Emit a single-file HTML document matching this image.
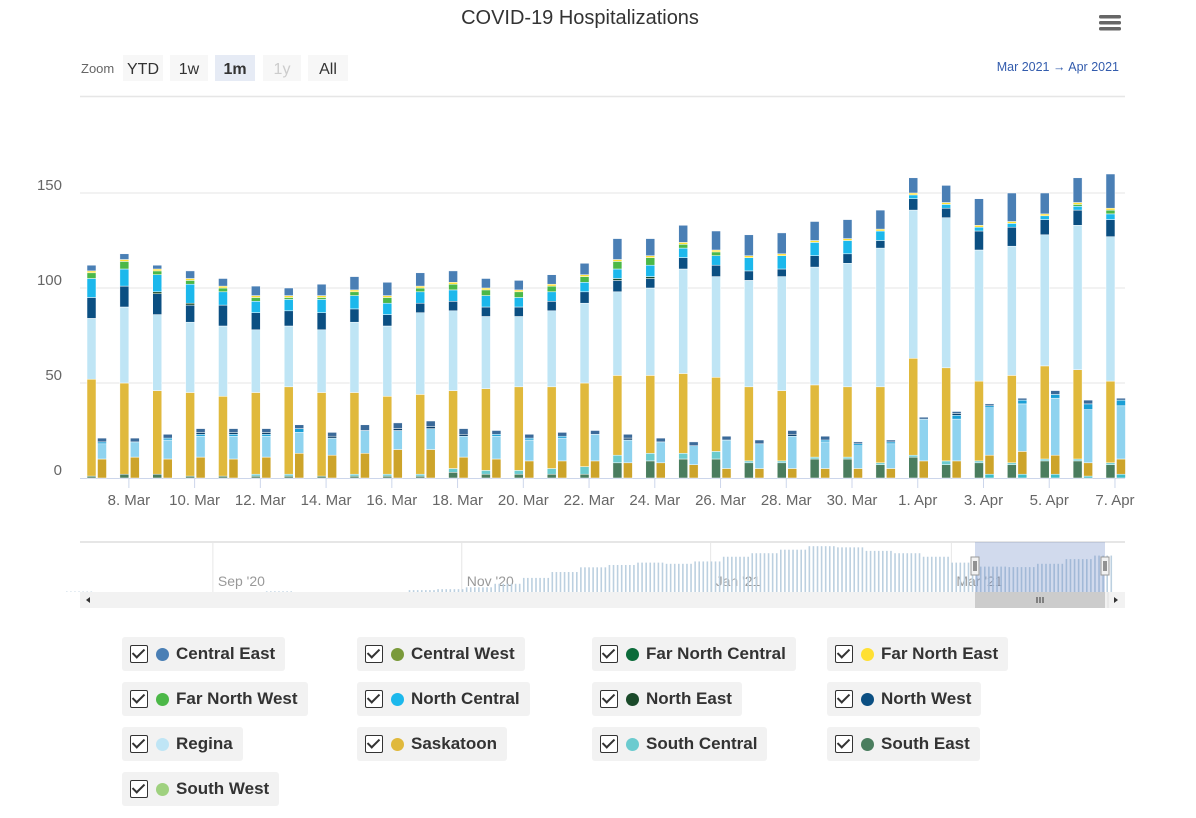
<!DOCTYPE html>
<html><head><meta charset="utf-8">
<style>
body{margin:0;background:#fff;font-family:"Liberation Sans",sans-serif;width:1196px;height:818px;overflow:hidden;position:relative}
svg{position:absolute;left:0;top:0}
.leg{position:absolute;height:34px;background:#f2f2f2;border-radius:3px;display:flex;align-items:center;padding:0 10px 0 8px;font-size:17px;font-weight:bold;color:#333;box-sizing:border-box}
.cb{width:18px;height:18px;border:1.5px solid #333;border-radius:2px;box-sizing:border-box;margin-right:8px;position:relative;background:#fff}
.cb:after{content:"";position:absolute;left:4px;top:0px;width:5px;height:10px;border:solid #333;border-width:0 2px 2px 0;transform:rotate(45deg)}
.dot{width:13px;height:13px;border-radius:50%;margin-right:7px}
</style></head><body>
<svg id="chart" width="1196" height="620"></svg>
<div id="legend"></div>
<script>
const dates=["7. Mar","8. Mar","9. Mar","10. Mar","11. Mar","12. Mar","13. Mar","14. Mar","15. Mar","16. Mar","17. Mar","18. Mar","19. Mar","20. Mar","21. Mar","22. Mar","23. Mar","24. Mar","25. Mar","26. Mar","27. Mar","28. Mar","29. Mar","30. Mar","31. Mar","1. Apr","2. Apr","3. Apr","4. Apr","5. Apr","6. Apr","7. Apr"];
const yTicks=[0,50,100,150];
// hospital (non-ICU) series, stacked bottom to top
const hospSE=[1,2,2,1,1,1,1,1,1,1,1,3,2,2,2,2,8,9,10,10,8,8,10,10,7,11,7,8,7,9,9,7];
const hospSC=[0,0,0,0,0,1,1,0,1,1,1,2,2,2,3,4,4,4,3,4,1,1,1,1,1,1,2,1,1,1,1,1];
const hospSask=[51,48,44,44,42,43,46,44,43,41,42,41,43,44,43,44,42,41,42,39,39,37,38,37,40,51,49,42,46,49,47,43];
const hospRegina=[32,40,40,37,37,33,32,33,37,37,43,42,38,37,40,42,44,46,55,53,56,60,62,65,73,78,79,69,68,69,76,76];
const hospNW=[11,11,11,9,11,9,8,9,7,6,5,5,5,5,5,6,6,5,6,6,5,4,6,5,4,6,5,10,10,8,8,9];
const hospNE=[0,0,1,1,0,0,0,0,0,0,0,0,0,0,0,0,1,1,0,0,0,0,0,0,0,0,0,0,0,0,0,0];
const hospNC=[10,9,9,10,7,6,6,7,7,6,6,6,6,5,5,5,5,6,5,5,7,7,7,7,5,2,2,2,2,2,2,3];
const hospFNW=[3,4,2,2,2,2,1,1,2,3,2,3,3,3,3,3,4,4,2,2,0,0,0,0,0,0,0,0,0,0,1,2];
const hospFNE=[1,1,1,1,1,1,1,1,1,1,1,1,1,1,1,1,1,1,1,1,1,1,1,1,1,1,1,1,1,1,1,1];
const hospCE=[3,3,2,4,4,5,4,6,7,7,7,6,5,5,5,6,11,9,9,10,11,11,10,10,10,8,9,14,15,11,13,18];
// ICU series
const icuSC=[0,0,0,0,0,0,0,0,0,0,0,0,0,0,0,0,0,0,0,0,0,0,0,0,0,0,0,2,2,2,1,2];
const icuSask=[10,11,10,11,10,11,13,12,13,15,15,11,10,9,9,9,8,8,7,5,5,5,5,5,5,9,9,10,12,10,7,8];
const icuRegina=[8,8,10,11,12,11,11,9,12,10,11,11,12,11,12,14,12,11,10,15,13,17,14,12,13,22,22,25,25,30,28,28];
const icuNC=[1,0,1,1,1,1,2,0,0,0,0,0,1,1,1,0,0,0,0,0,0,0,1,1,1,0,2,1,2,2,3,3];
const icuNW=[0,0,0,1,1,1,0,1,0,1,1,1,0,0,0,0,1,0,0,0,0,1,0,0,0,0,1,0,0,0,0,0];
const icuCE=[2,2,2,2,2,2,2,2,3,3,3,3,2,2,2,2,2,2,2,2,2,2,2,1,1,1,1,1,1,2,2,1];
// navigator weekly totals starting week of Jul 27 2020
const navWeekly=[2,0,0,0,0,0,0,3,0,0,0,0,8,12,20,35,60,85,105,115,125,120,130,150,165,180,195,190,175,165,150,125,108,106,120,140,155];
const navLabels=["Sep '20","Nov '20","Jan '21","Mar '21"];
const navLabelDays=[36,97,158,217];

const NS="http://www.w3.org/2000/svg";
const svg=document.getElementById('chart');
function mk(tag,attrs,parent){const e=document.createElementNS(NS,tag);for(const k in attrs)e.setAttribute(k,attrs[k]);(parent||svg).appendChild(e);return e;}
const y0=478,pxU=1.9;
const yS=v=>y0-v*pxU;
const xS=i=>96+i*32.87;

mk('rect',{x:0,y:0,width:1196,height:620,fill:'#fff'});
let t=mk('text',{x:580,y:24,'text-anchor':'middle','font-size':20,fill:'#333'});t.textContent='COVID-19 Hospitalizations';

const menu=mk('g',{});

[15,21,27].forEach(yy=>mk('rect',{x:1099,y:yy,width:22,height:3.5,rx:1.5,fill:'#666'},menu));
t=mk('text',{x:81,y:73,'font-size':13,fill:'#666'});t.textContent='Zoom';
const btns=[["YTD",123,40,0],["1w",170,38,0],["1m",215,40,1],["1y",263,38,2],["All",308,40,0]];
btns.forEach(b=>{const g=mk('g',{});

mk('rect',{x:b[1],y:55,width:b[2],height:26,fill:b[3]==1?'#e6ebf5':'#f7f7f7'},g);
const tt=mk('text',{x:b[1]+b[2]/2,y:74,'text-anchor':'middle','font-size':16,fill:b[3]==2?'#ccc':'#333','font-weight':b[3]==1?'bold':'normal'},g);tt.textContent=b[0];});
t=mk('text',{x:1119,y:71,'text-anchor':'end','font-size':12.5,fill:'#335cad'});t.textContent='Mar 2021  \u2192  Apr 2021';

mk('line',{x1:80,x2:1125,y1:96.5,y2:96.5,stroke:'#e6e6e6','stroke-width':1.5});
yTicks.forEach(v=>{if(v>0)mk('line',{x1:80,x2:1125,y1:yS(v),y2:yS(v),stroke:'#e6e6e6'});
const l=mk('text',{x:62,y:yS(v)-3,'text-anchor':'end','font-size':15,fill:'#666'});l.textContent=v;
});
mk('line',{x1:80,x2:1125,y1:y0+0.5,y2:y0+0.5,stroke:'#ccd6eb'});
const hospSeries=[[hospSE,'#4a7d5e'],[hospSC,'#6bcbcf'],[hospSask,'#e0b93c'],[hospRegina,'#bfe5f5'],[hospNW,'#0b4f82'],[hospNE,'#1a4a2a'],[hospNC,'#1cb8ec'],[hospFNW,'#4cb848'],[hospFNE,'#ffe033'],[hospCE,'#4a7fb5']];
const icuSeries=[[icuSC,'#3fbcc6'],[icuSask,'#cda42a'],[icuRegina,'#8fd3ef'],[icuNC,'#1a9fd6'],[icuNW,'#0b3f6a'],[icuCE,'#3b6a99']];
function stack(series,dx,name){dates.forEach((d,i)=>{let acc=0;series.forEach(s=>{const v=s[0][i];if(v>0){const r=mk('rect',{x:xS(i)+dx,y:yS(acc+v),width:9,height:v*pxU,fill:s[1],stroke:'#fff','stroke-width':0.5});
}acc+=v;});});}
stack(hospSeries,-9,'hospital-bar-segment');
stack(icuSeries,1.5,'icu-bar-segment');
dates.forEach((d,i)=>{if(i%2==1){mk('line',{x1:xS(i),x2:xS(i),y1:y0,y2:y0+10,stroke:'#ccd6eb'});
const l=mk('text',{x:xS(i),y:505,'text-anchor':'middle','font-size':15,fill:'#666'});l.textContent=d;
}});
// navigator
const nav=mk('g',{});
mk('line',{x1:80,x2:1125,y1:542,y2:542,stroke:'#ccc'},nav);
const nx=d=>66+d*4.08,nb=592,ns=0.235;
navLabelDays.forEach((d,i)=>{mk('line',{x1:nx(d),x2:nx(d),y1:542,y2:592,stroke:'#e6e6e6'},nav);
const l=mk('text',{x:nx(d)+5,y:586,'font-size':14,fill:'#999'},nav);l.textContent=navLabels[i];});
navWeekly.forEach((v,w)=>{for(let k=0;k<7;k++){const d=w*7+k;if(v>0&&d<=256)mk('rect',{x:nx(d),y:nb-v*ns,width:1.6,height:v*ns,fill:'#bcd0e0'},nav);}});
mk('rect',{x:975,y:542,width:130,height:50,fill:'rgba(102,133,194,0.3)'},nav);
[975,1105].forEach(x=>{mk('rect',{x:x-4,y:557,width:8,height:18,fill:'#f2f2f2',stroke:'#999'},nav);
mk('line',{x1:x-1,x2:x-1,y1:561,y2:571,stroke:'#333'},nav);mk('line',{x1:x+1,x2:x+1,y1:561,y2:571,stroke:'#333'},nav);});
mk('rect',{x:80,y:592,width:1045,height:16,fill:'#f2f2f2'},nav);
mk('rect',{x:975,y:592,width:130,height:16,fill:'#ccc'},nav);
[1037,1040,1043].forEach(x=>mk('line',{x1:x,x2:x,y1:597,y2:603,stroke:'#333'},nav));
mk('path',{d:'M90 597 L86 600 L90 603 Z',fill:'#333'},nav);
mk('path',{d:'M1114 597 L1118 600 L1114 603 Z',fill:'#333'},nav);
mk('line',{x1:1108,x2:1108,y1:592,y2:608,stroke:'#ddd'},nav);
// legend
const legNames=["Central East","Central West","Far North Central","Far North East","Far North West","North Central","North East","North West","Regina","Saskatoon","South Central","South East","South West"];
const legColors=["#4a7fb5","#7a9a3a","#0b6b3a","#ffe033","#4cb848","#1cb8ec","#1a4a2a","#0b4f82","#bfe5f5","#e0b93c","#6bcbcf","#4a7d5e","#9fd17f"];
const lg=document.getElementById('legend');
legNames.forEach((n,i)=>{const d=document.createElement('div');d.className='leg';


d.style.left=(122+(i%4)*235)+'px';d.style.top=(637+Math.floor(i/4)*45)+'px';
d.innerHTML='<span class="cb"></span><span class="dot" style="background:'+legColors[i]+'"></span>'+n;lg.appendChild(d);});
</script>
</body></html>
